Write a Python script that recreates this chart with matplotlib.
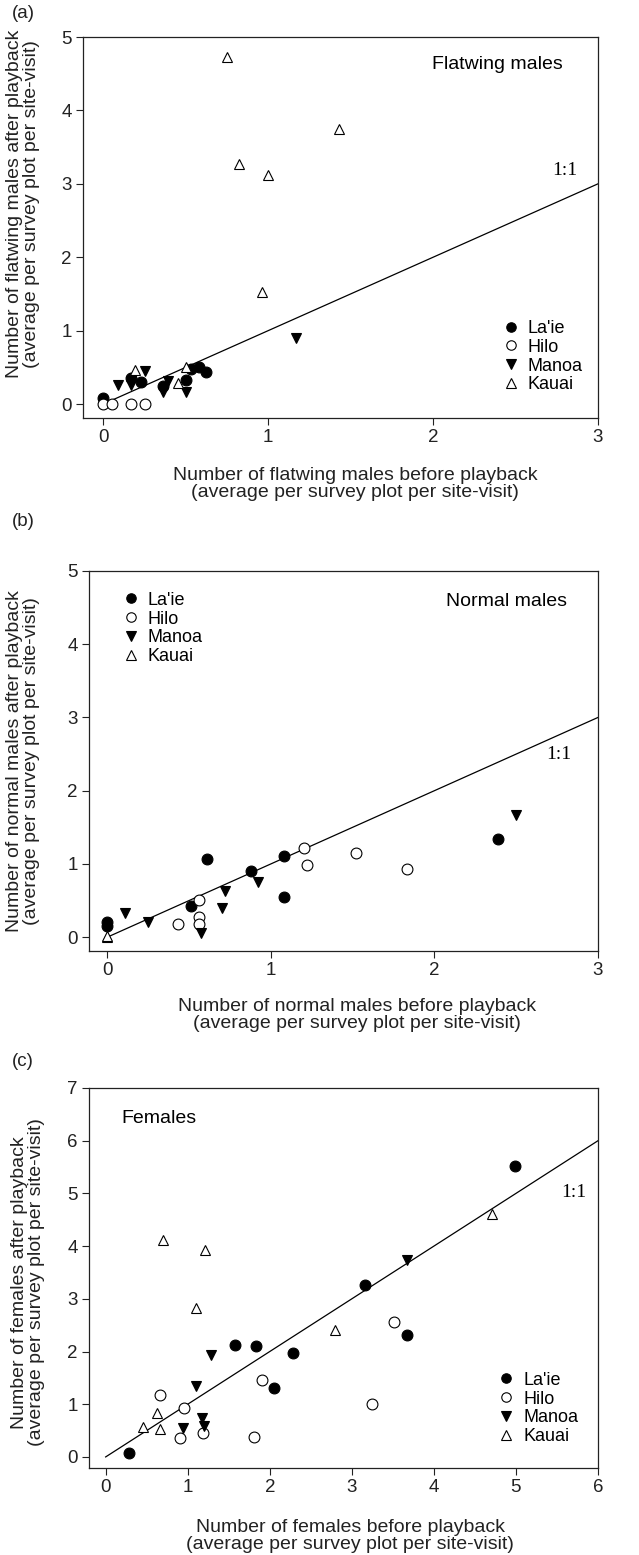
import matplotlib
matplotlib.use('Agg')
import matplotlib.pyplot as plt
from matplotlib.lines import Line2D

plt.rcParams['font.family'] = ['Liberation Sans', 'DejaVu Sans']

sites = ["La'ie", 'Hilo', 'Manoa', 'Kauai']

# (a) flatwing males: before / after playback
flat_laie_x = [0.0, 0.17, 0.23, 0.36, 0.50, 0.53, 0.58, 0.62]
flat_laie_y = [0.08, 0.36, 0.30, 0.24, 0.33, 0.48, 0.51, 0.43]
flat_hilo_x = [0.0, 0.05, 0.17, 0.25]
flat_hilo_y = [0.0, 0.0, 0.0, 0.0]
flat_manoa_x = [0.09, 0.17, 0.17, 0.25, 0.36, 0.39, 0.50, 1.17]
flat_manoa_y = [0.26, 0.26, 0.31, 0.45, 0.16, 0.32, 0.17, 0.90]
flat_kauai_x = [0.19, 0.455, 0.50, 0.75, 0.82, 0.96, 1.00, 1.43]
flat_kauai_y = [0.46, 0.29, 0.51, 4.73, 3.27, 1.52, 3.12, 3.74]

# (b) normal males
norm_laie_x = [0.0, 0.0, 0.51, 0.61, 0.88, 1.08, 1.08, 2.39]
norm_laie_y = [0.21, 0.15, 0.43, 1.06, 0.90, 1.11, 0.55, 1.34]
norm_hilo_x = [0.43, 0.56, 0.56, 0.56, 1.20, 1.22, 1.52, 1.83]
norm_hilo_y = [0.18, 0.51, 0.28, 0.18, 1.21, 0.98, 1.15, 0.93]
norm_manoa_x = [0.11, 0.25, 0.57, 0.70, 0.72, 0.92, 2.50]
norm_manoa_y = [0.33, 0.20, 0.05, 0.40, 0.63, 0.75, 1.67]
norm_kauai_x = [0.0, 0.0]
norm_kauai_y = [0.0, 0.02]

# (c) females
fem_laie_x = [0.28, 1.58, 1.83, 2.05, 2.28, 3.16, 3.67, 4.99]
fem_laie_y = [0.08, 2.12, 2.10, 1.31, 1.97, 3.27, 2.32, 5.52]
fem_hilo_x = [0.66, 0.91, 0.95, 1.19, 1.81, 1.90, 3.24, 3.52]
fem_hilo_y = [1.18, 0.35, 0.93, 0.45, 0.38, 1.46, 1.01, 2.56]
fem_manoa_x = [0.94, 1.10, 1.17, 1.20, 1.28, 3.67]
fem_manoa_y = [0.55, 1.35, 0.74, 0.59, 1.93, 3.74]
fem_kauai_x = [0.45, 0.63, 0.66, 0.70, 1.10, 1.21, 2.79, 4.71]
fem_kauai_y = [0.57, 0.83, 0.53, 4.12, 2.82, 3.93, 2.40, 4.61]

styles = [dict(marker='o', mfc='black', mec='black'),
          dict(marker='o', mfc='white', mec='black'),
          dict(marker='v', mfc='black', mec='black'),
          dict(marker='^', mfc='white', mec='black')]

W, H = 639, 1555
fig = plt.figure(figsize=(W / 100, H / 100), dpi=100)


def px_axes(l, t, r, b):
    return fig.add_axes([l / W, 1 - b / H, (r - l) / W, (b - t) / H])


def setup(ax, xlim, ylim, xticks, yticks, xlabel, ylabel, xl_pos, yl_pos):
    ax.set_xlim(xlim)
    ax.set_ylim(ylim)
    ax.set_xticks(xticks)
    ax.set_yticks(yticks)
    ax.tick_params(direction='out', length=5, width=0.8, labelsize=13.5,
                   pad=3, colors='#222222')
    for s in ax.spines.values():
        s.set_linewidth(0.9)
        s.set_color('#222222')
    ax.set_xlabel(xlabel, fontsize=14, linespacing=1.0, va='center', color='#222222')
    ax.set_ylabel(ylabel, fontsize=14, linespacing=1.0, va='center', color='#222222')
    ax.xaxis.set_label_coords(*xl_pos)
    ax.yaxis.set_label_coords(*yl_pos)


def draw(ax, data, lim):
    ax.plot([0, lim], [0, lim], color='black', lw=0.9, zorder=1)
    for (xs, ys), st in zip(data, styles):
        ax.plot(xs, ys, ls='none', ms=7.8, mew=0.8, zorder=3, **st)


def legend(ax, anchor):
    handles = [Line2D([], [], ls='none', ms=6.8, mew=0.8, **st) for st in styles]
    ax.legend(handles, sites, loc='center left', bbox_to_anchor=anchor,
              bbox_transform=ax.transData, frameon=False, fontsize=13,
              handlelength=0.75, handletextpad=0.55, labelspacing=0.1,
              borderpad=0, borderaxespad=0)


# panel (a)
ax1 = px_axes(83, 37, 598, 418)
draw(ax1, [(flat_laie_x, flat_laie_y), (flat_hilo_x, flat_hilo_y),
           (flat_manoa_x, flat_manoa_y), (flat_kauai_x, flat_kauai_y)], 3)
setup(ax1, (-0.123, 3.0), (-0.19, 5.0), [0, 1, 2, 3], [0, 1, 2, 3, 4, 5],
      'Number of flatwing males before playback\n(average per survey plot per site-visit)',
      'Number of flatwing males after playback\n(average per survey plot per site-visit)',
      (0.528, -0.173), (-0.1165, 0.562))
ax1.text(2.39, 4.62, 'Flatwing males', fontsize=14, ha='center', va='center')
ax1.text(2.80, 3.18, '1:1', fontsize=14, family='Liberation Serif', ha='center', va='center')
legend(ax1, (2.43, 0.646))

# panel (b)
ax2 = px_axes(89, 571, 598, 951)
draw(ax2, [(norm_laie_x, norm_laie_y), (norm_hilo_x, norm_hilo_y),
           (norm_manoa_x, norm_manoa_y), (norm_kauai_x, norm_kauai_y)], 3)
setup(ax2, (-0.113, 3.0), (-0.19, 5.0), [0, 1, 2, 3], [0, 1, 2, 3, 4, 5],
      'Number of normal males before playback\n(average per survey plot per site-visit)',
      'Number of normal males after playback\n(average per survey plot per site-visit)',
      (0.526, -0.168), (-0.13, 0.5))
ax2.text(2.44, 4.59, 'Normal males', fontsize=14, ha='center', va='center')
ax2.text(2.76, 2.49, '1:1', fontsize=14, family='Liberation Serif', ha='center', va='center')
legend(ax2, (0.10, 4.215))

# panel (c)
ax3 = px_axes(89, 1088, 598, 1468)
draw(ax3, [(fem_laie_x, fem_laie_y), (fem_hilo_x, fem_hilo_y),
           (fem_manoa_x, fem_manoa_y), (fem_kauai_x, fem_kauai_y)], 6)
setup(ax3, (-0.203, 6.0), (-0.21, 7.0), [0, 1, 2, 3, 4, 5, 6], [0, 1, 2, 3, 4, 5, 6, 7],
      'Number of females before playback\n(average per survey plot per site-visit)',
      'Number of females after playback\n(average per survey plot per site-visit)',
      (0.513, -0.179), (-0.12, 0.489))
ax3.text(0.195, 6.42, 'Females', fontsize=14, ha='left', va='center')
ax3.text(5.70, 5.01, '1:1', fontsize=14, family='Liberation Serif', ha='center', va='center')
legend(ax3, (4.80, 0.92))

# panel letters
for lab, ypx in [('(a)', 14), ('(b)', 521), ('(c)', 1062)]:
    fig.text(12 / W, 1 - ypx / H, lab, fontsize=13.5, ha='left', va='center', color='#222222')

fig.savefig('out.png', dpi=100)
